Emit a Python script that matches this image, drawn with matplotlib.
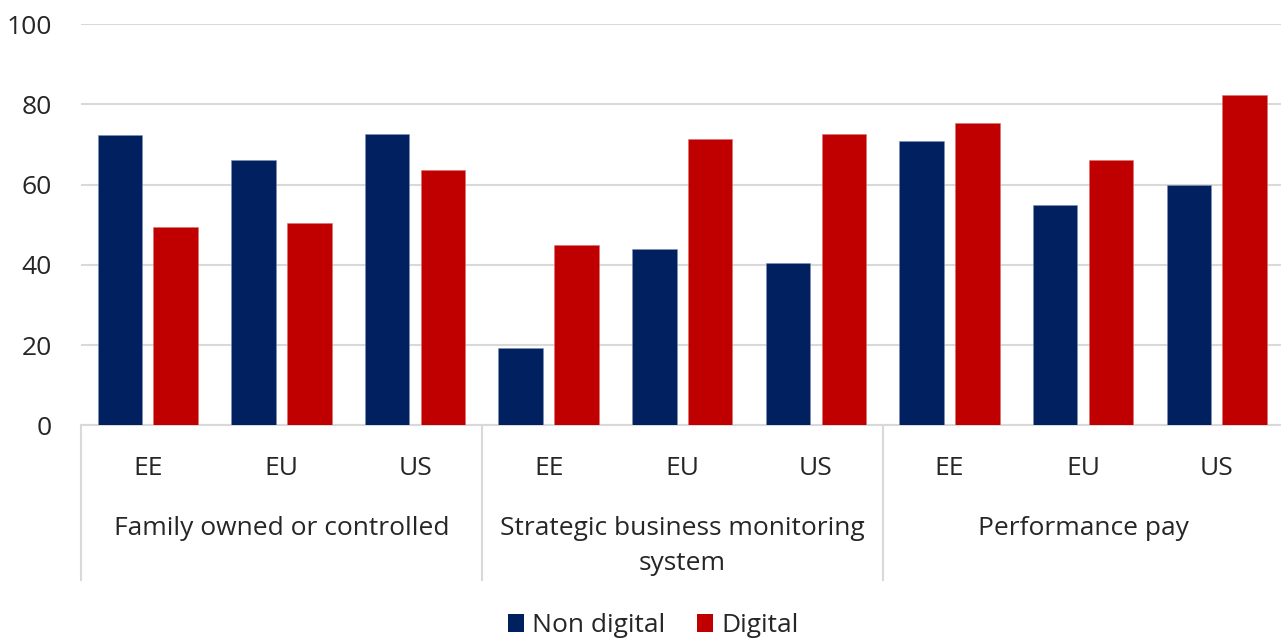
import matplotlib
matplotlib.use("Agg")
import matplotlib.pyplot as plt
import matplotlib.transforms as mtransforms
from matplotlib.patches import Patch
import numpy as np

plt.rcParams['font.family'] = ['Open Sans', 'DejaVu Sans']

groups = ["Family owned or controlled", "Strategic business monitoring\nsystem", "Performance pay"]
regions = ["EE", "EU", "US"]
non_digital = [72.4, 66.0, 72.5, 19.2, 43.9, 40.4, 70.8, 54.8, 59.8]
digital = [49.5, 50.3, 63.6, 44.9, 71.4, 72.5, 75.4, 66.0, 82.2]

navy = "#002060"
red = "#C00000"
grid_col = "#D9D9D9"
text_col = "#262626"
fs = 19

fig = plt.figure(figsize=(12.81, 6.39), dpi=100)
ax = fig.add_axes([0.0632, 0.3344, 0.9388, 0.6280])

x = np.arange(len(non_digital))
w = 0.333
off = 0.209
ax.bar(x - off, non_digital, w, color=navy, edgecolor="#8090b8", linewidth=0.4, zorder=3)
ax.bar(x + off, digital, w, color=red, edgecolor="#e07070", linewidth=0.4, zorder=3)

ax.set_xlim(-0.5, len(x) - 0.5)
ax.set_ylim(0, 100)
ax.set_yticks(range(0, 101, 20))
ax.yaxis.grid(True, color=grid_col, linewidth=1.5, zorder=0)
ax.tick_params(axis="y", length=0, pad=21, labelsize=fs, labelcolor=text_col)
ax.set_xticks([])
for s in ["top", "right", "left"]:
    ax.spines[s].set_visible(False)
ax.spines["bottom"].set_color(grid_col)
ax.spines["bottom"].set_linewidth(1.5)

# multi-level category axis
trans = mtransforms.blended_transform_factory(ax.transData, ax.transAxes)
for i in range(len(x)):
    ax.text(i, -0.077, regions[i % 3], transform=trans, ha="center", va="top",
            fontsize=fs, color=text_col)
for g, name in enumerate(groups):
    ax.text(3 * g + 1, -0.226, name, transform=trans, ha="center", va="top",
            fontsize=fs, color=text_col, linespacing=1.5)
for sep in [-0.5, 2.5, 5.5]:
    ax.plot([sep, sep], [0, -0.3855], transform=trans, color=grid_col,
            linewidth=1.5, clip_on=False)

handles = [Patch(facecolor=navy, label="Non digital"), Patch(facecolor=red, label="Digital")]
fig.legend(handles=handles, loc="lower center", bbox_to_anchor=(0.51, -0.036), ncol=2,
           frameon=False, fontsize=fs, handlelength=0.62, handleheight=0.62,
           handletextpad=0.3, columnspacing=1.2, labelcolor=text_col)

fig.savefig("out.png", dpi=100)
